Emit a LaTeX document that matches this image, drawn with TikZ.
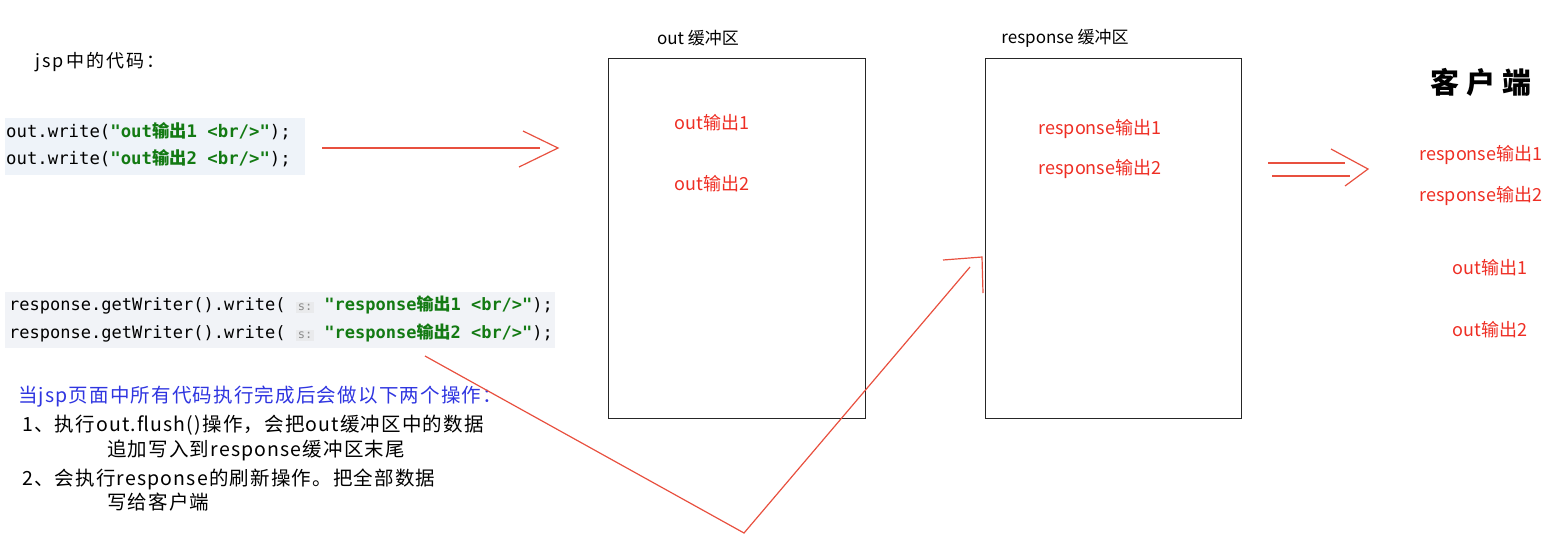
\documentclass[tikz,border=0pt]{standalone}
\usepackage{fontspec}
\setmainfont{Noto Sans CJK SC}
\setmonofont{DejaVu Sans Mono}
\newfontfamily\cjk{Noto Sans CJK SC}
\newfontfamily\notefont{Noto Sans CJK SC}[LetterSpace=6]
\definecolor{inkred}{HTML}{E8503F}
\definecolor{labelred}{HTML}{EE2E24}
\definecolor{codegreen}{HTML}{137A13}
\definecolor{noteblue}{HTML}{2F35E0}
\definecolor{codebg}{HTML}{EEF3F9}
\definecolor{codebgb}{HTML}{F1F3F7}
\definecolor{tagbg}{HTML}{E9EAEC}
\tikzset{
  buffer/.style={draw=black!85, line width=1.3pt, anchor=north west},
  bufname/.style={font=\fontsize{17}{18}\selectfont},
  redtext/.style={text=labelred, font=\fontsize{18}{20}\selectfont},
  code/.style={anchor=west, inner sep=0pt, font=\ttfamily\fontsize{17.3}{20}\selectfont},
  note/.style={anchor=west, inner sep=0pt, font=\notefont\fontsize{19.5}{22}\selectfont},
  redline/.style={draw=inkred, line width=1.2pt}
}
\newcommand\codestr[1]{\textcolor{codegreen}{\bfseries #1}}
\newcommand\shuchu{{\cjk\bfseries 输出}}
\newcommand\stag{{\setlength\fboxsep{2pt}\colorbox{tagbg}{\textcolor{black!45}{\fontsize{12}{12}\selectfont s:}}}}
\begin{document}
\begin{tikzpicture}[x=1pt,y=-1pt]
\useasboundingbox (0,0) rectangle (1565,558);

% code on the jsp page
\node[note, font=\notefont\fontsize{18}{20}\selectfont\addfontfeature{LetterSpace=12}] (jsptitle) at (35,62) {jsp中的代码：};
\node[fill=codebg, minimum width=300, minimum height=57, anchor=north west] (outcode) at (5,118) {};
\node[code] (outline1) at (6,131) {out.write(\codestr{"out\shuchu 1 <br/>"});};
\node[code] (outline2) at (6,158) {out.write(\codestr{"out\shuchu 2 <br/>"});};
\node[fill=codebgb, minimum width=550, minimum height=56, anchor=north west] (respcode) at (5,292) {};
\node[code, font=\ttfamily\fontsize{17}{20}\selectfont] (respline1) at (9,305) {response.getWriter().write( \stag{} \codestr{"response\shuchu 1 <br/>"});};
\node[code, font=\ttfamily\fontsize{17}{20}\selectfont] (respline2) at (9,333) {response.getWriter().write( \stag{} \codestr{"response\shuchu 2 <br/>"});};

% what happens at the end
\node[note, text=noteblue] (endnote) at (18,397) {当jsp页面中所有代码执行完成后会做以下两个操作：};
\node[note] (stepone) at (22,425) {1、执行out.flush()操作，会把out缓冲区中的数据};
\node[note] (steponeb) at (107,450) {追加写入到response缓冲区末尾};
\node[note] (steptwo) at (22,479) {2、会执行response的刷新操作。把全部数据};
\node[note] (steptwob) at (107,502) {写给客户端};

% the two buffers
\node[buffer, minimum width=257, minimum height=360] (outbuf) at (608,58) {};
\node[bufname] (outname) at (698,38) {out 缓冲区};
\node[redtext] (outa) at (712,123) {out输出1};
\node[redtext] (outb) at (712,184) {out输出2};
\node[buffer, minimum width=256, minimum height=360] (respbuf) at (985,58) {};
\node[bufname] (respname) at (1065,38) {response 缓冲区};
\node[redtext] (respa) at (1100,129) {response输出1};
\node[redtext] (respb) at (1100,169) {response输出2};

% client
\node[font=\fontsize{29}{32}\selectfont\bfseries] (client) at (1481,82) {客\hspace{7pt}户\hspace{7pt}端};
\node[redtext] (clienta) at (1481,155) {response输出1};
\node[redtext] (clientb) at (1481,196) {response输出2};
\node[redtext] (clientc) at (1490,268) {out输出1};
\node[redtext] (clientd) at (1490,330) {out输出2};

% arrows
\coordinate (wstart) at (322,148);
\coordinate (wtip) at (558,148);
\draw[redline] (wstart) -- (540,148);
\draw[redline] (523,131) -- (wtip) -- (519,167);

\coordinate (fstart) at (1268,163);
\coordinate (ftip) at (1368,169);
\draw[redline] (fstart) -- (1345,163);
\draw[redline] (1272,176) -- (1350,176);
\draw[redline] (1331,149) -- (ftip) -- (1345,186);

\coordinate (zstart) at (425,356);
\coordinate (zbottom) at (744,533);
\coordinate (zend) at (970,267);
\draw[redline] (zstart) -- (zbottom) -- (zend);
\draw[redline] (943,260) -- (982,257) -- (983,293);
\end{tikzpicture}
\end{document}
